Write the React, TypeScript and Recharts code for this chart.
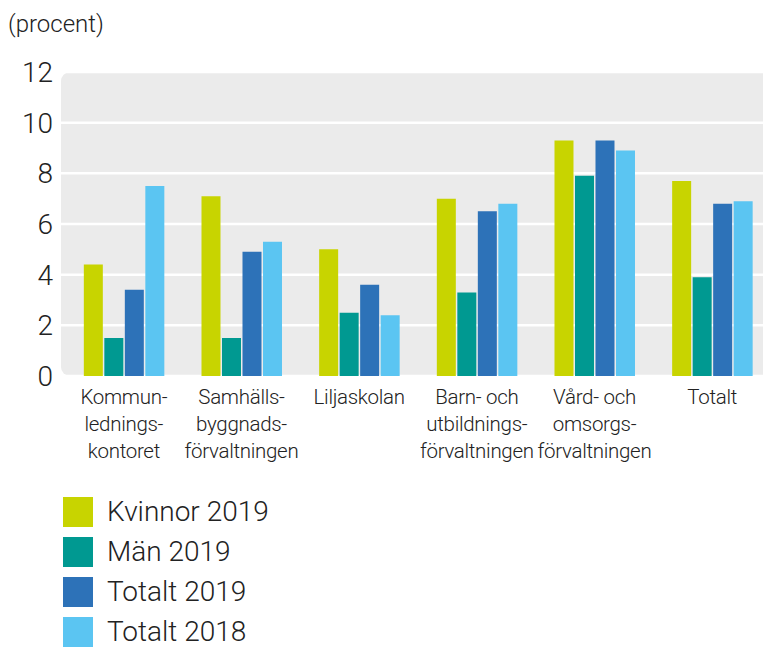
import { BarChart, Bar, XAxis, YAxis, CartesianGrid } from 'recharts';

const categories = [
  'Kommun-\nlednings-\nkontoret',
  'Samhälls-\nbyggnads-\nförvaltningen',
  'Liljaskolan',
  'Barn- och\nutbildnings-\nförvaltningen',
  'Vård- och\nomsorgs-\nförvaltningen',
  'Totalt',
];
const kvinnor2019 = [4.4, 7.1, 5.0, 7.0, 9.3, 7.7];
const man2019 = [1.5, 1.5, 2.5, 3.3, 7.9, 3.9];
const totalt2019 = [3.4, 4.9, 3.6, 6.5, 9.3, 6.8];
const totalt2018 = [7.5, 5.3, 2.4, 6.8, 8.9, 6.9];
const yTicks = [0, 2, 4, 6, 8, 10, 12];

const series = [
  { key: 'k19', name: 'Kvinnor 2019', color: '#c8d400', values: kvinnor2019 },
  { key: 'm19', name: 'Män 2019', color: '#009991', values: man2019 },
  { key: 't19', name: 'Totalt 2019', color: '#2d72b8', values: totalt2019 },
  { key: 't18', name: 'Totalt 2018', color: '#5bc5f2', values: totalt2018 },
];

const data = categories.map((c, i) => {
  const row: Record<string, string | number> = { name: c };
  series.forEach((s) => (row[s.key] = s.values[i]));
  return row;
});

const FONT = 'Roboto, sans-serif';

const CategoryTick = (props: any) => {
  const { x, y, payload } = props;
  const lines = String(payload.value).split('\n');
  return (
    <text
      x={x}
      y={y}
      textAnchor="middle"
      fontFamily={FONT}
      fontWeight={300}
      fontSize={20.5}
      letterSpacing={-0.3}
      fill="#222"
    >
      {lines.map((l, i) => (
        <tspan key={i} x={x} dy={i === 0 ? 20 : 27}>
          {l}
        </tspan>
      ))}
    </text>
  );
};

export default function App() {
  return (
    <div style={{ position: 'relative', width: 763, height: 644, overflow: 'hidden' }}>
      <div
        style={{
          position: 'absolute',
          left: 0,
          top: 2,
          fontFamily: FONT,
          fontWeight: 300,
          fontSize: 24,
          color: '#222',
        }}
      >
        (procent)
      </div>
      <BarChart
        width={773}
        height={644}
        data={data}
        margin={{ top: 64, right: 0, bottom: 176, left: 0 }}
        barCategoryGap="16%"
        barGap={1.5}
      >
        <CartesianGrid vertical={false} stroke="#ffffff" strokeWidth={2.5} fill="#ebebeb" ry={9} />
        <XAxis
          dataKey="name"
          axisLine={false}
          tickLine={false}
          tick={<CategoryTick />}
          interval={0}
          height={100}
          padding={{ left: 4, right: 10 }}
        />
        <YAxis
          domain={[0, 12]}
          ticks={yTicks}
          axisLine={false}
          tickLine={false}
          tickSize={0}
          tickMargin={8}
          width={53}
          tick={{ fontFamily: FONT, fontWeight: 300, fontSize: 28, fill: '#222' }}
        />
        {series.map((s) => (
          <Bar key={s.key} dataKey={s.key} name={s.name} fill={s.color} isAnimationActive={false} />
        ))}
      </BarChart>
      <div
        style={{
          position: 'absolute',
          left: 55,
          top: 484,
          fontFamily: FONT,
          fontWeight: 300,
          fontSize: 28,
          lineHeight: '30px',
          color: '#222',
        }}
      >
        {series.map((s) => (
          <div key={s.key} style={{ display: 'flex', alignItems: 'center', height: 40 }}>
            <span style={{ width: 30, height: 30, background: s.color, display: 'inline-block', marginRight: 14 }} />
            <span>{s.name}</span>
          </div>
        ))}
      </div>
    </div>
  );
}
